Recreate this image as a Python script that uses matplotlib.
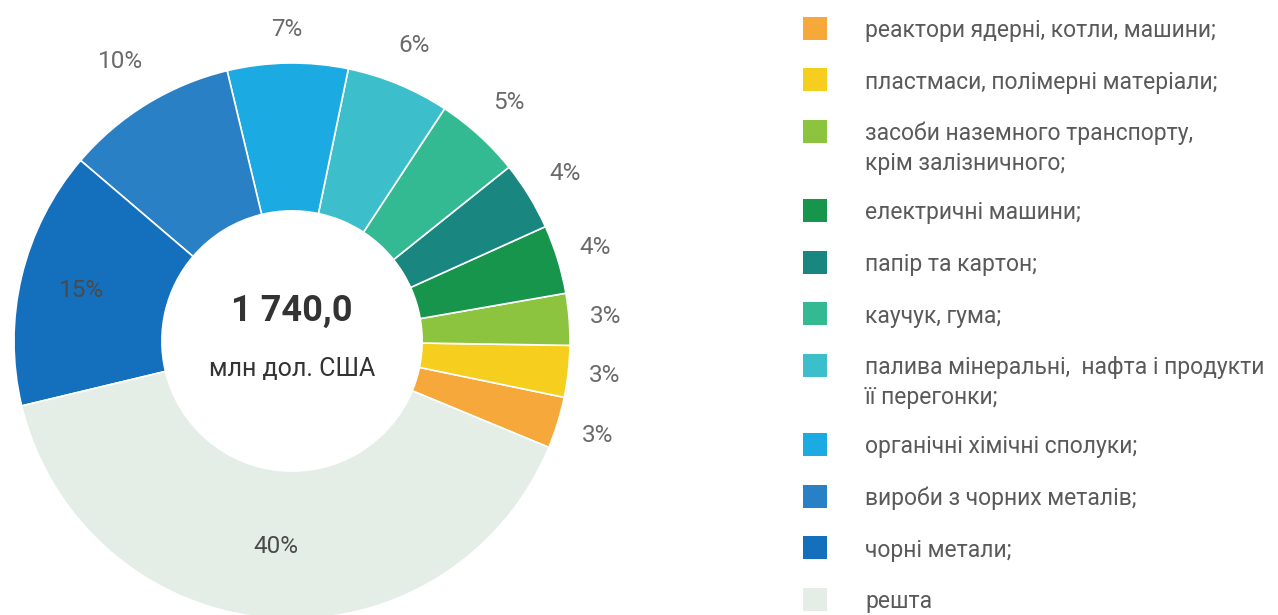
# структура імпорту, кільцева діаграма
import matplotlib.pyplot as plt
from matplotlib.patches import Rectangle
import numpy as np

categories = [
    "реактори ядерні, котли, машини;",
    "пластмаси, полімерні матеріали;",
    "засоби наземного транспорту,\nкрім залізничного;",
    "електричні машини;",
    "папір та картон;",
    "каучук, гума;",
    "палива мінеральні,  нафта і продукти\nїї перегонки;",
    "органічні хімічні сполуки;",
    "вироби з чорних металів;",
    "чорні метали;",
    "решта",
]
shares = [3, 3, 3, 4, 4, 5, 6, 7, 10, 15, 40]
colors = ["#F7A83A", "#F6CE1E", "#8DC43F", "#17954C", "#1A8680", "#33BA93",
          "#3DBECB", "#1CAAE2", "#2A80C5", "#1470BD", "#E4EEE6"]
total_label = "1 740,0"
unit_label = "млн дол. США"

# label distance from centre (in pie radii), per slice
label_r = [1.15, 1.13, 1.13, 1.14, 1.15, 1.16, 1.15, 1.12, 1.18, 0.78, 0.74]

W, H = 1278, 615
fig = plt.figure(figsize=(W / 100, H / 100), dpi=100)

# pie: centre (292, 341) px from top-left, outer radius 278 px
cx, cy, R = 292, H - 341, 278
L = 1.3
ax = fig.add_axes([(cx - L * R) / W, (cy - L * R) / H, 2 * L * R / W, 2 * L * R / H])
wedges, _ = ax.pie(shares, colors=colors, startangle=-22.5, counterclock=True,
                   radius=1, wedgeprops=dict(width=0.532, edgecolor="white", linewidth=1.2))
ax.set_xlim(-L, L)
ax.set_ylim(-L, L)
ax.axis("off")

for w, s, r in zip(wedges, shares, label_r):
    a = np.deg2rad((w.theta1 + w.theta2) / 2)
    ax.text(r * np.cos(a), r * np.sin(a), f"{s}%", ha="center", va="center",
            fontsize=17.5, color="#6a6a6a" if r > 1 else "#4a4a4a", family="Roboto")

ax.text(0, 0.11, total_label, ha="center", va="center", fontsize=26,
        fontweight="bold", color="#333333", family="Roboto")
ax.text(0, -0.1, unit_label, ha="center", va="center", fontsize=18,
        color="#333333", family="Roboto")

# legend drawn by hand, one text per line
y = 28
for lab, c in zip(categories, colors):
    fig.add_artist(Rectangle((803 / W, (H - y - 11.5) / H), 24 / W, 23 / H,
                             transform=fig.transFigure, color=c, lw=0))
    for i, line in enumerate(lab.split("\n")):
        fig.text(865 / W, (H - y - 9 - 30 * i) / H, line, ha="left", va="baseline",
                 fontsize=16.5, color="#5a5a5a", family="Roboto")
    y += 51.5 + 28 * lab.count("\n")

fig.savefig("out.png", dpi=100, facecolor="white")
